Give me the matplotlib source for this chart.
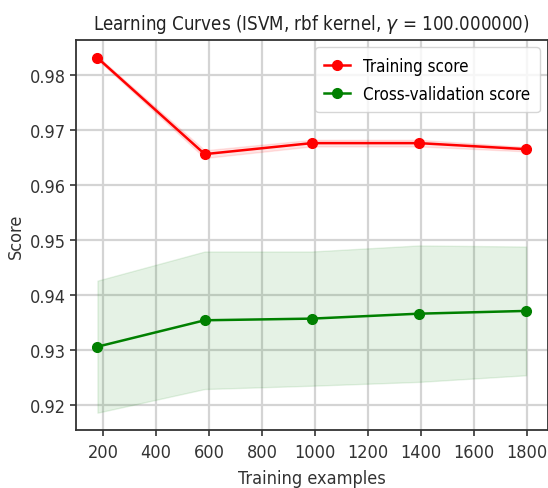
import os
import matplotlib
matplotlib.use("Agg")
import matplotlib.pyplot as plt
import numpy as np
from matplotlib import font_manager
from matplotlib.font_manager import FontProperties

train_sizes = [179, 584, 988, 1393, 1797]
train_mean = [0.9831, 0.9656, 0.9676, 0.9676, 0.9665]
train_std = [0.0003, 0.0007, 0.0006, 0.0006, 0.0004]
cv_mean = [0.9306, 0.9354, 0.9357, 0.9366, 0.9371]
cv_std = [0.0120, 0.0125, 0.0122, 0.0124, 0.0117]
x_ticks = [200, 400, 600, 800, 1000, 1200, 1400, 1600, 1800]
y_ticks = [0.92, 0.93, 0.94, 0.95, 0.96, 0.97, 0.98]

# pick a condensed font if one is installed
files = {os.path.basename(f.fname): f.fname for f in font_manager.fontManager.ttflist}
font_file = None
for cand in ["DejaVuSansCondensed.ttf", "LiberationSansNarrow-Regular.ttf"]:
    if cand in files:
        font_file = files[cand]
        break

def fp(size):
    if font_file:
        return FontProperties(fname=font_file, size=size)
    return FontProperties(family="DejaVu Sans", size=size)

plt.rcParams["mathtext.fontset"] = "dejavusans"

tr_m = np.array(train_mean); tr_s = np.array(train_std)
cv_m = np.array(cv_mean); cv_s = np.array(cv_std)

fig = plt.figure(figsize=(5.48, 4.89), dpi=100)
ax = fig.add_axes([76/548, (489-431.3)/489, (547.5-76)/548, (431.3-40.7)/489])
ax.grid(True, color="#d4d4d4", linewidth=1.6)
ax.set_axisbelow(True)
ax.fill_between(train_sizes, tr_m - tr_s, tr_m + tr_s, alpha=0.1, color="r")
ax.fill_between(train_sizes, cv_m - cv_s, cv_m + cv_s, alpha=0.1, color="g")
ax.plot(train_sizes, tr_m, 'o-', color="r", label="Training score", markersize=7, linewidth=1.8)
ax.plot(train_sizes, cv_m, 'o-', color="g", label="Cross-validation score", markersize=7, linewidth=1.8)
ax.set_xlim(98, 1878)
ax.set_ylim(0.9154, 0.9864)
ax.set_xticks(x_ticks)
ax.set_yticks(y_ticks)
ax.set_xticklabels([str(v) for v in x_ticks], fontproperties=fp(13))
ax.set_yticklabels([f"{v:.2f}" for v in y_ticks], fontproperties=fp(13))
ax.tick_params(colors="#333333", length=4, width=1.2)
ax.tick_params(axis="x", pad=5)
for s in ax.spines.values():
    s.set_color("#333333")
    s.set_linewidth(1.3)
ax.set_title(r"Learning Curves (ISVM, rbf kernel, $\gamma$ = 100.000000)", fontproperties=fp(13.4),
             color="#222222", pad=8)
ax.set_xlabel("Training examples", fontproperties=fp(13), color="#333333", labelpad=6)
ax.set_ylabel("Score", fontproperties=fp(13), color="#333333", labelpad=3)
ax.legend(loc="upper right", prop=fp(12.2), borderaxespad=0.45, handlelength=1.5,
          borderpad=0.55, labelspacing=0.6)
fig.savefig("out.png", dpi=100)
